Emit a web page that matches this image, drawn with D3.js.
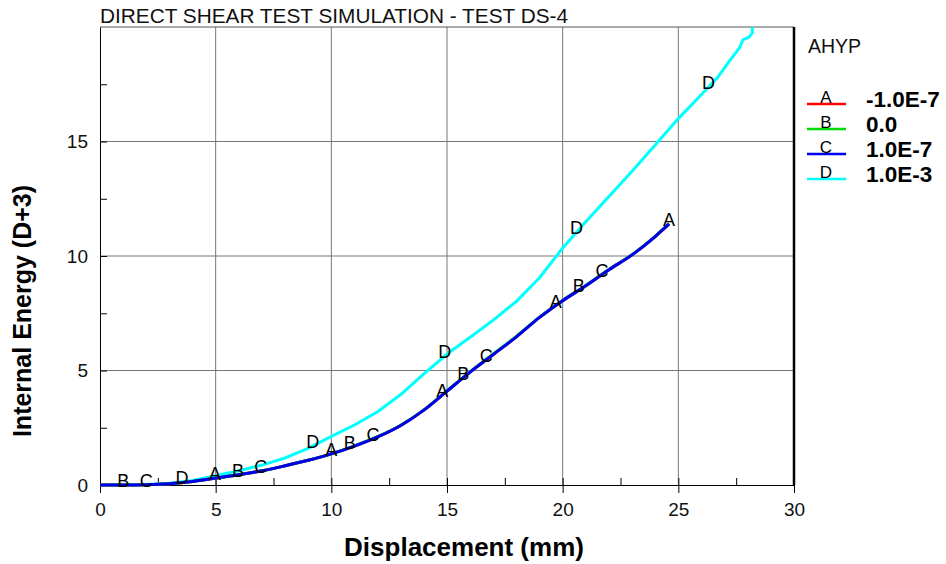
<!DOCTYPE html>
<html><head><meta charset="utf-8">
<script src="https://cdn.jsdelivr.net/npm/d3@7/dist/d3.min.js"></script>
<style>body{margin:0;background:#fff}svg{display:block;font-family:"Liberation Sans",Arial,sans-serif}</style>
</head><body>
<script>
// ---- data ----
const titleText = "DIRECT SHEAR TEST SIMULATION - TEST DS-4";
const xLabel = "Displacement (mm)";
const yLabel = "Internal Energy (D+3)";
const legendTitle = "AHYP";
const seriesNames = ["A","B","C","D"];
const seriesValues = ["-1.0E-7","0.0","1.0E-7","1.0E-3"];
const seriesColors = ["#ff0000","#00d800","#0000f0","#00ffff"];
const xTicks = [0,5,10,15,20,25,30];
const yTicks = [0,5,10,15];
const xMinor = [2.5,7.5,12.5,17.5,22.5,27.5];
const yMinor = [2.5,7.5,12.5,17.5];
// displacement (mm) vs internal energy (D+3) for A, B, C (overlapping)
const xABC = [0,1,2,3,4,5,6,7,8,9,10,11,12,13,14,15,16,17,18,19,20,21,22,23,24,24.6];
const yA   = [0,0,0.01,0.05,0.15,0.3,0.45,0.62,0.84,1.08,1.36,1.7,2.1,2.6,3.27,4.1,4.93,5.7,6.47,7.32,8.05,8.7,9.4,10.05,10.85,11.4];
const yB   = [0,0,0.01,0.05,0.15,0.3,0.45,0.62,0.84,1.08,1.36,1.71,2.11,2.61,3.28,4.11,4.94,5.72,6.49,7.33,8.06,8.71,9.41,10.06,10.86,11.41];
const yC   = [0,0,0.01,0.05,0.15,0.3,0.45,0.62,0.84,1.08,1.36,1.7,2.1,2.6,3.27,4.1,4.93,5.7,6.47,7.32,8.05,8.7,9.4,10.05,10.85,11.4];
const xD   = [0,1,2,3,4,5,6,7,8,9,10,11,12,13,14,15,16,17,18,19,20,21,22,23,24,25,26,26.7,27.2,27.65,27.8,28.05,28.2,28.2];
const yD   = [0,0,0.02,0.08,0.2,0.4,0.62,0.87,1.18,1.6,2.12,2.62,3.2,3.95,4.85,5.72,6.45,7.2,8.02,9.05,10.35,11.5,12.6,13.7,14.85,16.0,17.05,17.8,18.5,19.1,19.45,19.55,19.75,20];
// positions (displacement) of the curve letter markers
const markA = [4.97,10.0,14.8,19.7,24.6];
const markB = [1.0,5.97,10.8,15.7,20.7];
const markC = [2.0,6.95,11.8,16.7,21.7];
const markD = [3.55,9.2,14.9,20.6,26.3];

// ---- layout ----
const W=946,H=564;
const x = d3.scaleLinear().domain([0,30]).range([100,794]);
const y = d3.scaleLinear().domain([0,20]).range([485,27]);
const svg = d3.select("body").append("svg").attr("width",W).attr("height",H);

// grid
svg.append("g").selectAll("line").data(xTicks.filter(d=>d>0&&d<30)).join("line")
  .attr("x1",d=>x(d)).attr("x2",d=>x(d)).attr("y1",y(0)).attr("y2",y(20))
  .attr("stroke","#777").attr("stroke-width",1);
svg.append("g").selectAll("line").data(yTicks.filter(d=>d>0)).join("line")
  .attr("x1",x(0)).attr("x2",x(30)).attr("y1",d=>y(d)).attr("y2",d=>y(d))
  .attr("stroke","#777").attr("stroke-width",1);

// frame
svg.append("line").attr("x1",x(0)).attr("x2",x(30)).attr("y1",y(20)).attr("y2",y(20)).attr("stroke","#555").attr("stroke-width",1);
svg.append("line").attr("x1",x(30)).attr("x2",x(30)).attr("y1",y(20)).attr("y2",y(0)).attr("stroke","#000").attr("stroke-width",2.5);

// axes
const xAxisMajor = d3.axisBottom(x).tickValues(xTicks).tickSizeInner(8).tickSizeOuter(0).tickPadding(10).tickFormat(d3.format("d"));
const gx = svg.append("g").attr("transform",`translate(0,${y(0)})`).call(xAxisMajor);
gx.selectAll(".tick line").attr("y1",-7);
const gxm = svg.append("g").attr("transform",`translate(0,${y(0)})`).call(d3.axisBottom(x).tickValues(xMinor).tickSize(-7).tickFormat(""));
gxm.select(".domain").remove();
const yAxisMajor = d3.axisLeft(y).tickValues(yTicks).tickSizeInner(5).tickSizeOuter(0).tickPadding(7).tickFormat(d3.format("d"));
const gy = svg.append("g").attr("transform",`translate(${x(0)},0)`).call(yAxisMajor);
gy.selectAll(".tick line").attr("x2",7);
const gym = svg.append("g").attr("transform",`translate(${x(0)},0)`).call(d3.axisLeft(y).tickValues(yMinor).tickSize(-7).tickFormat(""));
gym.select(".domain").remove();
svg.selectAll(".domain").attr("stroke","#000");
[gx,gy].forEach(g=>g.selectAll(".tick text").attr("font-size",19).attr("fill","#111").attr("font-family","Liberation Sans, Arial, sans-serif"));
svg.selectAll(".tick line").attr("stroke","#000");

// curves
const line = d3.line().x(d=>x(d[0])).y(d=>y(d[1])).curve(d3.curveMonotoneX);
const lineEnd = d3.line().x(d=>x(d[0])).y(d=>y(d[1]));
const seriesData = [
  d3.zip(xABC,yA), d3.zip(xABC,yB), d3.zip(xABC,yC), d3.zip(xD,yD)
];
svg.append("defs").append("clipPath").attr("id","clip").append("rect")
  .attr("x",x(0)).attr("y",y(20)-2).attr("width",x(30)-x(0)).attr("height",y(0)-y(20)+4);
const gc = svg.append("g").attr("clip-path","url(#clip)");
[3,0,1,2].forEach(i=>{
  gc.append("path").datum(seriesData[i]).attr("d",i===3?lineEnd:line).attr("fill","none")
    .attr("stroke",seriesColors[i]).attr("stroke-width",3).attr("stroke-linejoin","round");
});

// letter markers
function interp(xs,ys,v){
  const i = Math.max(1, Math.min(xs.length-1, d3.bisectLeft(xs,v)));
  const x0=xs[i-1],x1=xs[i],y0=ys[i-1],y1=ys[i];
  return x1===x0?y0:y0+(y1-y0)*(v-x0)/(x1-x0);
}
const marks = [[markA,xABC,yA],[markB,xABC,yB],[markC,xABC,yC],[markD,xD,yD]];
marks.forEach((m,i)=>{
  svg.append("g").selectAll("text").data(m[0]).join("text")
    .attr("x",d=>x(d)).attr("y",d=>y(interp(m[1],m[2],d))+2)
    .attr("text-anchor","middle").attr("font-size",18).attr("fill","#000")
    .text(seriesNames[i]);
});

// title
svg.append("text").attr("x",100).attr("y",22.5).attr("font-size",20.8).attr("fill","#111").text(titleText);
// axis titles
svg.append("text").attr("x",464).attr("y",556).attr("text-anchor","middle")
  .attr("font-size",26).attr("font-weight","bold").attr("fill","#000").text(xLabel);
svg.append("text").attr("transform","translate(31,311) rotate(-90)").attr("text-anchor","middle")
  .attr("font-size",25).attr("font-weight","bold").attr("fill","#000").text(yLabel);

// legend
svg.append("text").attr("x",808).attr("y",53).attr("font-size",19.5).attr("fill","#111").text(legendTitle);
const lg = svg.append("g").selectAll("g").data(seriesNames).join("g")
  .attr("transform",(d,i)=>`translate(0,${104+i*25})`);
lg.append("line").attr("x1",807).attr("x2",846).attr("y1",0).attr("y2",0)
  .attr("stroke",(d,i)=>seriesColors[i]).attr("stroke-width",2.4);
lg.append("text").attr("x",826).attr("y",-1).attr("text-anchor","middle").attr("font-size",17).attr("fill","#000").text(d=>d);
lg.append("text").attr("x",866).attr("y",2.5).attr("font-size",22.5).attr("font-weight","bold").attr("fill","#000")
  .text((d,i)=>seriesValues[i]);
</script>
</body></html>
